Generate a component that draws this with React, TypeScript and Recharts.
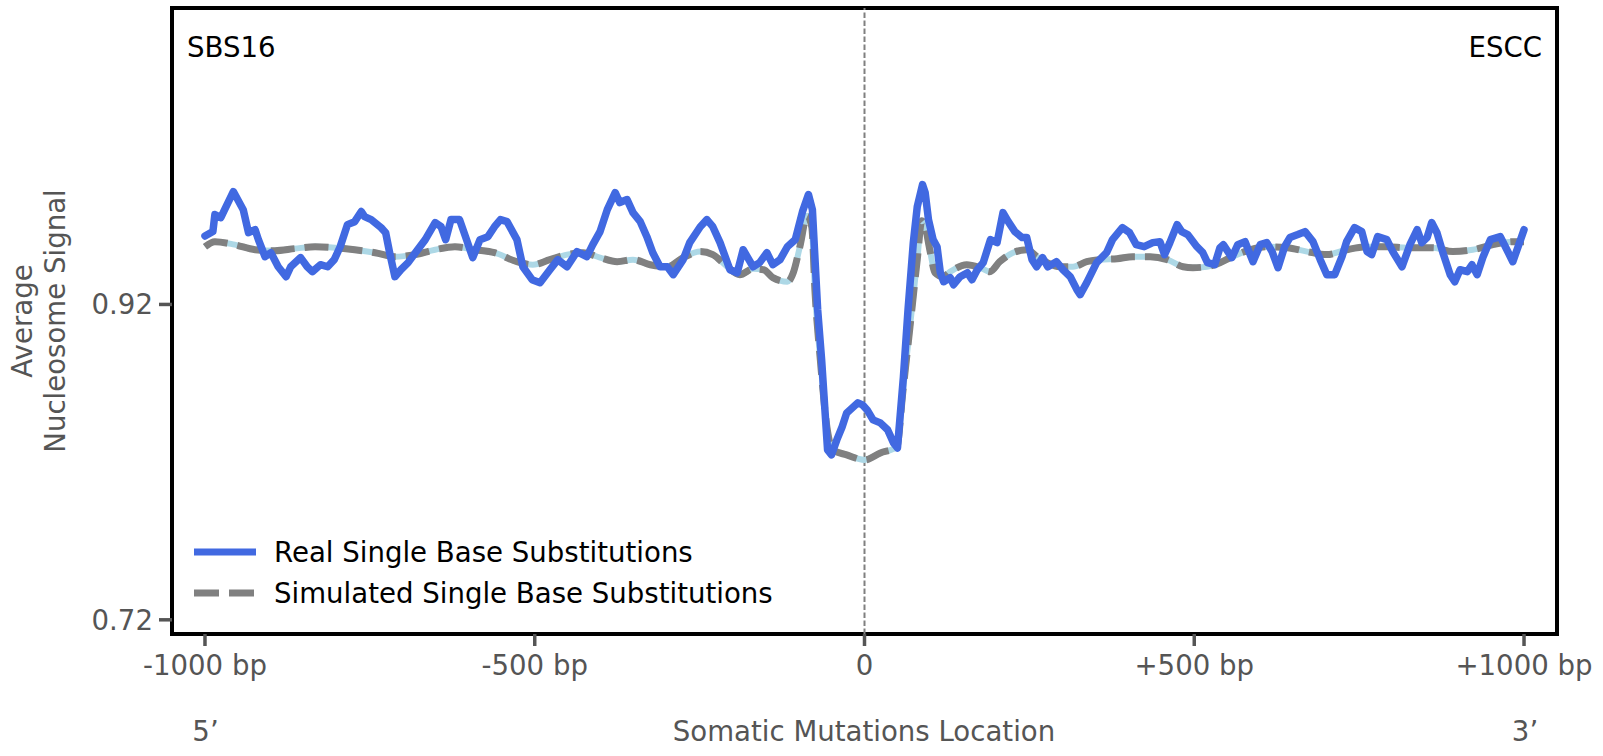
import React from "react";
import {
  LineChart,
  Line,
  XAxis,
  YAxis,
  ReferenceLine,
  ReferenceArea,
  Customized,
} from "recharts";

// ---- data (bp position, average nucleosome signal) ----
const realBp = [
  -1000, -988, -985, -976, -968, -957, -942, -934, -924, -919, -909, -900, -889, -877, -870, -855, -845, -837,
  -825, -814, -804, -795, -784, -773, -763, -758, -748, -733, -726, -720, -712, -703, -692, -681, -666, -651,
  -642, -635, -627, -614, -605, -594, -583, -571, -561, -552, -542, -527, -518, -504, -492, -477, -465, -451,
  -436, -421, -412, -401, -390, -378, -371, -360, -351, -340, -330, -321, -310, -299, -290, -275, -265, -249,
  -239, -230, -219, -204, -193, -184, -169, -159, -148, -139, -128, -117, -105, -94, -85, -79, -75, -71, -65,
  -60, -56, -50, -42, -34, -27, -10, -3, 4, 13, 24, 35, 44, 50, 59, 66, 74, 80, 88, 92, 97, 104, 110, 115, 120,
  130, 135, 145, 156, 163, 171, 180, 191, 201, 210, 218, 228, 239, 246, 254, 261, 270, 278, 291, 301, 312, 322,
  327, 337, 352, 367, 376, 391, 402, 412, 424, 437, 448, 455, 463, 474, 481, 490, 504, 513, 520, 531, 539, 544,
  557, 566, 577, 589, 600, 610, 618, 627, 637, 645, 657, 668, 680, 691, 701, 713, 724, 731, 743, 754, 762, 769,
  778, 792, 801, 815, 827, 838, 845, 853, 860, 868, 877, 888, 895, 903, 914, 921, 929, 938, 949, 964, 974, 983,
  991, 1000,
];
const realVal = [
  0.9634, 0.9662, 0.977, 0.9751, 0.982, 0.9916, 0.9801, 0.9655, 0.9674, 0.9611, 0.9503, 0.9528, 0.9439, 0.9376,
  0.9439, 0.9497, 0.9439, 0.9408, 0.9452, 0.9439, 0.9484, 0.9566, 0.9706, 0.9725, 0.9789, 0.9757, 0.9738, 0.9687,
  0.9655, 0.9528, 0.9376, 0.942, 0.9465, 0.9528, 0.9611, 0.9719, 0.9693, 0.9611, 0.9738, 0.9738, 0.963, 0.9497,
  0.9611, 0.963, 0.9693, 0.9738, 0.9725, 0.9611, 0.9439, 0.9357, 0.9338, 0.942, 0.9484, 0.9439, 0.9535, 0.9503,
  0.9579, 0.9662, 0.9801, 0.9909, 0.9846, 0.9865, 0.9782, 0.9725, 0.963, 0.9528, 0.9439, 0.9439, 0.9389, 0.9484,
  0.9592, 0.9693, 0.9738, 0.9693, 0.9592, 0.942, 0.9401, 0.9547, 0.9439, 0.9465, 0.9528, 0.9452, 0.9484, 0.9566,
  0.9611, 0.9789, 0.9897, 0.9801, 0.9484, 0.9166, 0.8849, 0.8531, 0.8277, 0.8246, 0.8341, 0.8423, 0.8512, 0.8576,
  0.8563, 0.8531, 0.8468, 0.8449, 0.8405, 0.8322, 0.829, 0.8741, 0.9166, 0.9592, 0.982, 0.996, 0.9909, 0.9738,
  0.9611, 0.9566, 0.9401, 0.9344, 0.937, 0.9325, 0.9376, 0.9401, 0.9357, 0.942, 0.9465, 0.9611, 0.9592, 0.9782,
  0.9725, 0.9662, 0.9624, 0.9624, 0.9484, 0.9439, 0.9497, 0.9439, 0.9471, 0.942, 0.9376, 0.9294, 0.9262, 0.9338,
  0.9465, 0.9528, 0.9611, 0.9687, 0.9655, 0.9579, 0.9566, 0.9592, 0.9598, 0.9516, 0.9592, 0.9706, 0.9662, 0.9643,
  0.9566, 0.9528, 0.9465, 0.9452, 0.956, 0.9579, 0.9497, 0.9579, 0.9598, 0.9471, 0.9579, 0.9592, 0.9535, 0.9433,
  0.9566, 0.9624, 0.9643, 0.9662, 0.9598, 0.9484, 0.9389, 0.9389, 0.9503, 0.9598, 0.9687, 0.9662, 0.9535, 0.9516,
  0.963, 0.9611, 0.9535, 0.9439, 0.9579, 0.9674, 0.9592, 0.9624, 0.9719, 0.9655, 0.9528, 0.9389, 0.9344, 0.942,
  0.9408, 0.9452, 0.9389, 0.9503, 0.9611, 0.963, 0.9547, 0.9471, 0.9566, 0.9674,
];

const simBp = [
  -1000, -985, -955, -924, -894, -864, -833, -803, -773, -742, -712, -682, -651, -621, -591, -561, -527, -503,
  -477, -451, -427, -401, -375, -351, -325, -299, -275, -249, -230, -208, -189, -169, -153, -139, -117, -108, -98,
  -87, -80, -75, -67, -57, -48, -27, 0, 24, 49, 58, 69, 80, 87, 92, 99, 107, 119, 130, 155, 175, 190, 205, 225,
  246, 262, 277, 296, 316, 337, 357, 383, 407, 433, 459, 483, 498, 519, 539, 558, 610, 641, 671, 701, 731, 762,
  792, 823, 862, 892, 922, 953, 983, 1000,
];
const simVal = [
  0.9566, 0.9598, 0.9579, 0.9547, 0.9541, 0.9554, 0.9566, 0.956, 0.9547, 0.9528, 0.9503, 0.9516, 0.9547, 0.9566,
  0.9547, 0.9528, 0.9471, 0.9452, 0.9484, 0.9516, 0.9528, 0.9497, 0.9471, 0.9484, 0.9452, 0.9439, 0.9497, 0.9535,
  0.9516, 0.9439, 0.9389, 0.9426, 0.942, 0.937, 0.9344, 0.9401, 0.9566, 0.9763, 0.9693, 0.9275, 0.8849, 0.8423,
  0.8277, 0.8246, 0.8214, 0.8258, 0.8296, 0.8639, 0.9059, 0.9484, 0.9731, 0.9693, 0.9547, 0.9401, 0.9376, 0.9408,
  0.9452, 0.9433, 0.9408, 0.9471, 0.9528, 0.9547, 0.9503, 0.9465, 0.9439, 0.9439, 0.9471, 0.9484, 0.949, 0.9503,
  0.9503, 0.9484, 0.9439, 0.9433, 0.9439, 0.9465, 0.9503, 0.9566, 0.956, 0.9535, 0.9516, 0.9547, 0.9566, 0.9566,
  0.956, 0.956, 0.9535, 0.9547, 0.9579, 0.9598, 0.9598,
];

const xTicks = [-1000, -500, 0, 500, 1000];
const xTickLabels = ["-1000 bp", "-500 bp", "0", "+500 bp", "+1000 bp"];
const yTicks = [0.72, 0.92];
const yTickLabels = ["0.72", "0.92"];

const realData = realBp.map((bp, i) => ({ bp, v: realVal[i] }));
const simData = simBp.map((bp, i) => ({ bp, v: simVal[i] }));

const FONT = "'DejaVu Sans', sans-serif";
const FS = 27.6;
const GREY_TEXT = "#555555";
const X_DOMAIN: [number, number] = [-1050, 1050];
const Y_DOMAIN: [number, number] = [0.711, 1.108];

const Annotations = () => (
  <g fontFamily={FONT} fontSize={FS}>
    <text x={187} y={47} fill="#000" dominantBaseline="central">SBS16</text>
    <text x={1542} y={47} fill="#000" textAnchor="end" dominantBaseline="central">ESCC</text>
    <text
      transform="translate(22.5,321) rotate(-90)"
      textAnchor="middle"
      dominantBaseline="central"
      fill={GREY_TEXT}
    >
      Average
    </text>
    <text
      transform="translate(55,321) rotate(-90)"
      textAnchor="middle"
      dominantBaseline="central"
      fill={GREY_TEXT}
    >
      Nucleosome Signal
    </text>
    <text x={205.5} y={731} textAnchor="middle" dominantBaseline="central" fill={GREY_TEXT}>5’</text>
    <text x={864} y={731} textAnchor="middle" dominantBaseline="central" fill={GREY_TEXT}>Somatic Mutations Location</text>
    <text x={1525} y={731} textAnchor="middle" dominantBaseline="central" fill={GREY_TEXT}>3’</text>
    {/* legend */}
    <line x1={194} x2={256} y1={552} y2={552} stroke="#4169E1" strokeWidth={7} />
    <text x={274} y={552} fill="#000" dominantBaseline="central">Real Single Base Substitutions</text>
    <line x1={194} x2={256} y1={593} y2={593} stroke="#808080" strokeWidth={7} strokeDasharray="25 10" />
    <text x={274} y={593} fill="#000" dominantBaseline="central">Simulated Single Base Substitutions</text>
  </g>
);

export default function App() {
  return (
    <div style={{ position: "absolute", left: 0, top: 0, width: 1603, height: 756, background: "#fff" }}>
      <LineChart width={1603} height={756} margin={{ top: 8, right: 46, bottom: 0, left: 0 }}>
        <XAxis
          type="number"
          dataKey="bp"
          domain={X_DOMAIN}
          allowDataOverflow
          ticks={xTicks}
          tickFormatter={(v: number) => xTickLabels[xTicks.indexOf(v)] ?? String(v)}
          height={122}
          axisLine={false}
          tickSize={12}
          tickMargin={9}
          tickLine={{ stroke: GREY_TEXT, strokeWidth: 3.5 }}
          tick={{ fill: GREY_TEXT, fontSize: FS, fontFamily: FONT }}
          interval={0}
        />
        <YAxis
          type="number"
          domain={Y_DOMAIN}
          allowDataOverflow
          ticks={yTicks}
          tickFormatter={(v: number) => yTickLabels[yTicks.indexOf(v)] ?? String(v)}
          width={172}
          axisLine={false}
          tickSize={13}
          tickMargin={6}
          tickLine={{ stroke: GREY_TEXT, strokeWidth: 3.5 }}
          tick={{ fill: GREY_TEXT, fontSize: FS, fontFamily: FONT }}
          interval={0}
        />
        <ReferenceLine x={0} stroke="#808080" strokeWidth={2} strokeDasharray="5.5 2.5" />
        <Line
          data={simData}
          dataKey="v"
          type="monotone"
          stroke="#ADD8E6"
          strokeWidth={6}
          dot={false}
          isAnimationActive={false}
        />
        <Line
          data={simData}
          dataKey="v"
          type="monotone"
          stroke="#808080"
          strokeWidth={7}
          strokeDasharray="24 10"
          dot={false}
          isAnimationActive={false}
        />
        <Line
          data={realData}
          dataKey="v"
          type="linear"
          stroke="#4169E1"
          strokeWidth={7.5}
          strokeLinejoin="round"
          strokeLinecap="round"
          dot={false}
          isAnimationActive={false}
        />
        <ReferenceArea
          x1={X_DOMAIN[0]}
          x2={X_DOMAIN[1]}
          y1={Y_DOMAIN[0]}
          y2={Y_DOMAIN[1]}
          fill="none"
          fillOpacity={0}
          stroke="#000"
          strokeWidth={4}
          ifOverflow="visible"
        />
        <Customized component={Annotations} />
      </LineChart>
    </div>
  );
}
